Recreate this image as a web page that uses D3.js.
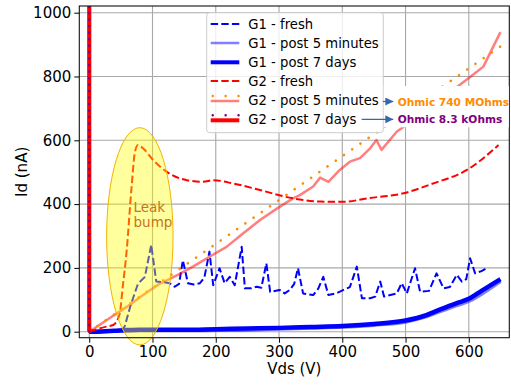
<!DOCTYPE html>
<html lang="en">
<head>
<meta charset="UTF-8">
<script src="https://d3js.org/d3.v7.min.js"></script>
<style>
body{ margin:0; background:white; }
svg text{ font-family: "DejaVu Sans", sans-serif; }
</style>
</head>
<body>
<svg width="511" height="385"></svg>
<script>
// ---- data (Vds in V, Id in nA) ----
const xTicks = [0, 100, 200, 300, 400, 500, 600];
const yTicks = [0, 200, 400, 600, 800, 1000];

const vdsG1Fresh = [0, 30, 50, 56, 65, 77, 88, 98, 106, 118, 127, 135, 142, 148, 156, 165, 175, 182, 190, 196, 206, 214, 222, 230, 241, 246, 256, 265, 272, 280, 286, 301, 309, 317, 324, 330, 338, 354, 362, 370, 378, 390, 402, 412, 423, 431, 444, 452, 460, 466, 486, 494, 502, 515, 523, 537, 549, 560, 570, 581, 589, 596, 602, 610, 620, 628];
const idG1Fresh  = [0, 0, 2, 16, 80, 150, 172, 272, 157, 155, 152, 141, 150, 224, 152, 148, 152, 170, 251, 146, 199, 152, 172, 146, 266, 136, 136, 141, 138, 214, 125, 131, 120, 131, 150, 199, 120, 115, 135, 172, 115, 120, 131, 140, 204, 105, 105, 110, 157, 110, 120, 152, 120, 199, 125, 128, 183, 136, 140, 178, 157, 165, 230, 183, 190, 199];

const vdsG1Min = [0, 20, 40, 60, 80, 100, 150, 200, 250, 300, 350, 400, 450, 500, 530, 555, 580, 600, 620, 650];
const idG1Min  = [0, 1, 2, 3, 4, 4, 4, 5, 6, 9, 12, 15, 21, 31, 46, 64, 82, 96, 118, 158];

const vdsG1Days = [0, 20, 40, 60, 80, 100, 150, 200, 250, 300, 350, 400, 450, 500, 530, 555, 580, 600, 620, 650];
const idG1Days  = [0, 1, 3, 5, 6, 6, 6, 8, 10, 12, 15, 18, 24, 35, 50, 70, 89, 103, 128, 165];

const vdsG2Fresh = [0, 27, 38, 48, 53, 59, 67, 72, 77, 85, 101, 122, 154, 180, 196, 227, 270, 322, 365, 402, 439, 497, 544, 597, 647];
const idG2Fresh  = [0, 16, 21, 55, 141, 250, 455, 560, 585, 575, 538, 502, 475, 470, 475, 465, 444, 418, 408, 407, 418, 434, 465, 507, 585];

const vdsG2Min = [0, 32, 64, 80, 96, 111, 140, 164, 190, 217, 243, 270, 296, 322, 333, 354, 365, 378, 396, 412, 428, 444, 454, 462, 486, 520, 560, 600, 623, 650];
const idG2Min  = [0, 42, 84, 108, 130, 150, 178, 204, 235, 266, 308, 350, 385, 418, 428, 455, 483, 470, 507, 533, 544, 575, 601, 570, 627, 675, 735, 795, 831, 939];

const vdsG2Days = [0, 0.005, 0.01];
const idG2Days  = [0, 600, 1200];

// ohmic fits
const vdsFit740M = [0, 660];
const idFit740M  = [0, 908];
const vdsFit8k = [0, 0.01];
const idFit8k  = [0, 1205];

const legendLabels = ["G1 - fresh", "G1 - post 5 minutes", "G1 - post 7 days",
  "G2 - fresh", "G2 - post 5 minutes", "G2 - post 7 days"];

// ---- layout ----
const svg = d3.select("svg");
const pLeft = 79.3, pRight = 509.3, pTop = 6, pBottom = 337.7;

const x = d3.scaleLinear().domain([-15.7, 664]).range([pLeft, pRight]);
const y = d3.scaleLinear().domain([-18.8, 1021]).range([pBottom, pTop]);

const defs = svg.append("defs");
defs.append("clipPath").attr("id", "plotclip")
  .append("rect").attr("x", pLeft).attr("y", pTop)
  .attr("width", pRight - pLeft).attr("height", pBottom - pTop);

// grid
svg.append("g").selectAll("line").data(xTicks).join("line")
  .attr("x1", d => x(d)).attr("x2", d => x(d))
  .attr("y1", pTop).attr("y2", pBottom)
  .attr("stroke", "#a8a8a8").attr("stroke-width", 1.1);
svg.append("g").selectAll("line").data(yTicks).join("line")
  .attr("y1", d => y(d)).attr("y2", d => y(d))
  .attr("x1", pLeft).attr("x2", pRight)
  .attr("stroke", "#a8a8a8").attr("stroke-width", 1.1);

const plot = svg.append("g").attr("clip-path", "url(#plotclip)");

function series(v, i, color, width, dash, opacity, curve){
  const line = d3.line().x(d => x(d[0])).y(d => y(d[1]))
    .curve(curve || d3.curveLinear);
  plot.append("path")
    .attr("d", line(d3.zip(v, i)))
    .attr("fill", "none")
    .attr("stroke", color)
    .attr("stroke-width", width)
    .attr("stroke-dasharray", dash)
    .attr("stroke-opacity", opacity)
    .attr("stroke-linejoin", "round")
    .attr("stroke-linecap", dash && dash.startsWith("0.1") ? "round" : "butt");
}

series(vdsG1Fresh, idG1Fresh, "#0000ff", 2, "7.4,3.2", 1);
series(vdsG1Min, idG1Min, "#0000ff", 3.8, null, 0.5, d3.curveMonotoneX);
series(vdsG1Days, idG1Days, "#0000ff", 4.5, null, 1, d3.curveMonotoneX);
series(vdsG2Fresh, idG2Fresh, "#ff0000", 2, "7.4,3.2", 1, d3.curveMonotoneX);
series(vdsG2Min, idG2Min, "#ff0000", 2.5, null, 0.5);
series(vdsFit740M, idFit740M, "#ff8c00", 2.6, "0.1,9.9", 1);
series(vdsG2Days, idG2Days, "#ff0000", 4.2, null, 1);
series(vdsFit8k, idFit8k, "#800080", 2.6, "0.1,6.4", 1);

// leak bump ellipse
const ecx = 80, ecy = 299, ew = 105, eh = 681;
svg.append("ellipse")
  .attr("cx", x(ecx)).attr("cy", y(ecy))
  .attr("rx", x(ecx + ew / 2) - x(ecx))
  .attr("ry", y(ecy) - y(ecy + eh / 2))
  .attr("fill", "#ffff00").attr("fill-opacity", 0.38)
  .attr("stroke", "#f2b300").attr("stroke-width", 1);

svg.append("text").attr("x", 133.5).attr("y", 211.5)
  .attr("font-size", 13.5).attr("fill", "#c47424").text("Leak");
svg.append("text").attr("x", 133.5).attr("y", 226.5)
  .attr("font-size", 13.5).attr("fill", "#c47424").text("bump");

// axes
const xAxis = svg.append("g").attr("transform", `translate(0,${pBottom})`)
  .call(d3.axisBottom(x).tickValues(xTicks).tickFormat(d3.format("d"))
    .tickSize(5).tickPadding(4).tickSizeOuter(0));
const yAxis = svg.append("g").attr("transform", `translate(${pLeft},0)`)
  .call(d3.axisLeft(y).tickValues(yTicks).tickFormat(d3.format("d"))
    .tickSize(5).tickPadding(3).tickSizeOuter(0));
[xAxis, yAxis].forEach(g => {
  g.select(".domain").remove();
  g.selectAll("text").attr("font-size", 15).attr("fill", "#000")
    .style("font-family", "DejaVu Sans");
  g.selectAll(".tick line").attr("stroke", "#000").attr("stroke-width", 1);
});

svg.append("rect").attr("x", pLeft).attr("y", pTop)
  .attr("width", pRight - pLeft).attr("height", pBottom - pTop)
  .attr("fill", "none").attr("stroke", "#111").attr("stroke-width", 1.1);

svg.append("text").attr("x", (pLeft + pRight) / 2).attr("y", 374)
  .attr("text-anchor", "middle").attr("font-size", 15).text("Vds (V)");
svg.append("text")
  .attr("transform", `translate(27,${(pTop + pBottom) / 2}) rotate(-90)`)
  .attr("text-anchor", "middle").attr("font-size", 15).text("Id (nA)");

// legend
const lg = svg.append("g");
lg.append("rect").attr("x", 206.7).attr("y", 12.7).attr("width", 176.6).attr("height", 120)
  .attr("rx", 3).attr("fill", "white").attr("fill-opacity", 0.8)
  .attr("stroke", "#cccccc").attr("stroke-width", 1);

const rowY = [24, 43, 62.3, 81, 100, 119.3];
const hx1 = 210.7, hx2 = 239.3;
const handles = [
  {color: "#0000ff", w: 2, dash: "7.4,3.2", op: 1},
  {color: "#0000ff", w: 2.5, dash: null, op: 0.5},
  {color: "#0000ff", w: 4, dash: null, op: 1},
  {color: "#ff0000", w: 2, dash: "7.4,3.2", op: 1},
  {color: "#ff0000", w: 2.5, dash: null, op: 0.5, dots: "#ff8c00"},
  {color: "#ff0000", w: 4, dash: null, op: 1, dots: "#800080"}
];
handles.forEach((h, k) => {
  const yy = rowY[k];
  lg.append("line").attr("x1", hx1).attr("x2", hx2)
    .attr("y1", h.dots ? yy + 1 : yy).attr("y2", h.dots ? yy + 1 : yy)
    .attr("stroke", h.color).attr("stroke-width", h.w)
    .attr("stroke-opacity", h.op).attr("stroke-dasharray", h.dash);
  if (h.dots) {
    lg.append("line").attr("x1", hx1 + 2).attr("x2", hx2 + 1)
      .attr("y1", yy - 4).attr("y2", yy - 4)
      .attr("stroke", h.dots).attr("stroke-width", 2.4)
      .attr("stroke-linecap", "round").attr("stroke-dasharray", "0.1,12.8");
  }
  lg.append("text").attr("x", 248.3).attr("y", yy + 4.7)
    .attr("font-size", 13.2).attr("fill", "#000").text(legendLabels[k]);
});

// ohmic annotations
svg.append("rect").attr("x", 383.8).attr("y", 86).attr("width", 125).attr("height", 41.3)
  .attr("fill", "white");
defs.append("marker").attr("id", "arr")
  .attr("viewBox", "0 0 10 10").attr("refX", 10).attr("refY", 5)
  .attr("markerUnits", "userSpaceOnUse")
  .attr("markerWidth", 8).attr("markerHeight", 8).attr("orient", "auto")
  .append("path").attr("d", "M0,0 L10,5 L0,10 z").attr("fill", "#3567ab");

const annots = [
  {x0: 382.7, y: 101.5, text: "Ohmic 740 MOhms", color: "#ff8c00"},
  {x0: 361.7, y: 119.3, text: "Ohmic 8.3 kOhms", color: "#800080"}
];
annots.forEach(a => {
  svg.append("line").attr("x1", a.x0).attr("x2", 393.3)
    .attr("y1", a.y).attr("y2", a.y)
    .attr("stroke", "#3567ab").attr("stroke-width", 1.2)
    .attr("marker-end", "url(#arr)");
  svg.append("text").attr("x", 397.7).attr("y", a.y + 4.1)
    .attr("font-size", 10.6).attr("font-weight", "bold")
    .attr("fill", a.color).text(a.text);
});
</script>
</body>
</html>
